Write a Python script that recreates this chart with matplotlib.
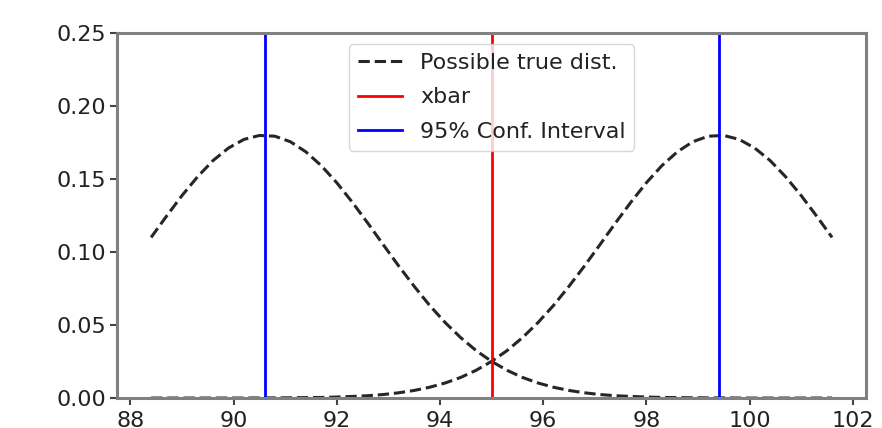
import numpy as np
import matplotlib
matplotlib.use("Agg")
import matplotlib.pyplot as plt

# x grid of the two possible true distributions
x_vals = [88.4, 88.7, 89.0, 89.3, 89.6, 89.9, 90.2, 90.5, 90.8, 91.1,
          91.4, 91.7, 92.0, 92.3, 92.6, 92.9, 93.2, 93.5, 93.8, 94.1,
          94.4, 94.7, 95.0, 95.3, 95.6, 95.9, 96.2, 96.5, 96.8, 97.1,
          97.4, 97.7, 98.0, 98.3, 98.6, 98.9, 99.2, 99.5, 99.8, 100.1,
          100.4, 100.7, 101.0, 101.3, 101.6]

left_dist = [0.1100, 0.1246, 0.1387, 0.1515, 0.1626, 0.1712, 0.1771, 0.1798, 0.1793, 0.1755,
             0.1686, 0.1591, 0.1474, 0.1341, 0.1198, 0.1050, 0.0904, 0.0765, 0.0634, 0.0517,
             0.0414, 0.0325, 0.0251, 0.0190, 0.0141, 0.0103, 0.0074, 0.0052, 0.0036, 0.0024,
             0.0016, 0.0011, 0.0007, 0.0004, 0.0003, 0.0002, 0.0001, 0.0001, 0.0000, 0.0000,
             0.0000, 0.0000, 0.0000, 0.0000, 0.0000]

right_dist = [0.0000, 0.0000, 0.0000, 0.0000, 0.0000, 0.0000, 0.0000, 0.0001, 0.0001, 0.0002,
              0.0003, 0.0004, 0.0007, 0.0011, 0.0016, 0.0024, 0.0036, 0.0052, 0.0074, 0.0103,
              0.0141, 0.0190, 0.0251, 0.0325, 0.0414, 0.0517, 0.0634, 0.0765, 0.0904, 0.1050,
              0.1198, 0.1341, 0.1474, 0.1591, 0.1686, 0.1755, 0.1793, 0.1798, 0.1771, 0.1712,
              0.1626, 0.1515, 0.1387, 0.1246, 0.1100]

xbar = 95.0
conf_interval = [90.6, 99.4]
y_max = 0.25

fig, ax = plt.subplots(figsize=(8.82, 4.28), dpi=100)
fig.subplots_adjust(left=0.1327, right=0.982, top=0.923, bottom=0.070)

ax.plot(x_vals, left_dist, 'k--', lw=2.2, alpha=0.85, label='Possible true dist.')
ax.plot(x_vals, right_dist, 'k--', lw=2.2, alpha=0.85)
ax.axvline(xbar, color='r', lw=2, label='xbar')
ax.axvline(conf_interval[0], color='b', lw=2, label='95% Conf. Interval')
ax.axvline(conf_interval[1], color='b', lw=2)

ax.set_ylim(0, y_max)
ax.set_xticks(np.arange(88, 103, 2))
ax.tick_params(labelsize=16, width=1.5, length=5, pad=2.5, color='#444444',
               labelcolor='#222222')
ax.tick_params(axis='x', pad=4)
for s in ax.spines.values():
    s.set_color('#808080')
    s.set_linewidth(2.2)

leg = ax.legend(loc='upper center', fontsize=16, labelspacing=0.65)
for t in leg.get_texts():
    t.set_color('#222222')

plt.savefig('out.png')
